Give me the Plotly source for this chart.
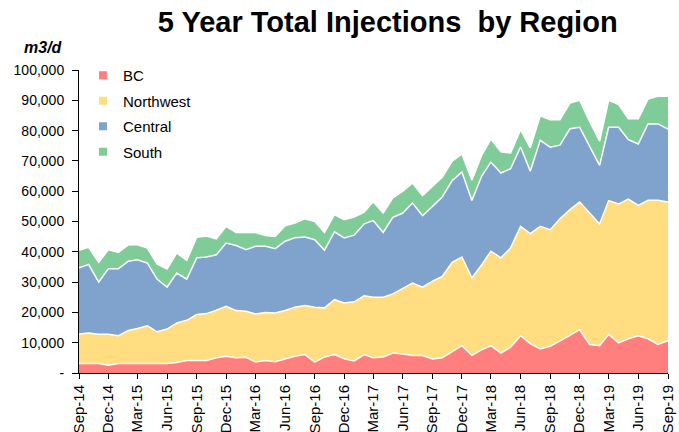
import pandas as pd
import plotly.graph_objects as go

months = pd.date_range("2014-09-01", "2019-09-01", freq="MS")

bc = [3.1,3.1,3.1,2.6,3.1,3.1,3.1,3.1,3.1,3.1,3.5,4.1,4.1,4.1,5.0,5.5,5.0,5.2,3.6,4.1,
      3.7,4.6,5.5,6.1,3.6,5.3,6.1,4.7,4.0,6.1,5.0,5.3,6.6,6.3,5.8,5.8,4.6,5.0,6.9,9.0,
      5.8,7.7,9.0,6.6,8.5,12.3,9.7,7.9,8.8,10.5,12.4,14.3,9.4,9.0,12.7,9.9,11.3,12.3,11.3,9.4,10.7]
northwest = [9.8,10.1,9.7,10.2,9.2,10.9,11.6,12.5,10.5,11.4,13.0,13.3,15.2,15.5,15.7,16.5,15.6,15.2,15.9,15.9,
             16.1,16.0,16.2,16.2,18.1,16.2,18.1,18.4,19.5,19.4,20.0,19.7,19.5,21.7,23.9,22.5,25.7,26.9,29.6,29.3,
             25.6,28.1,31.2,31.4,32.8,36.1,36.3,40.5,38.5,40.4,41.5,42.1,43.4,40.2,44.2,45.9,46.1,43.0,45.7,47.6,45.7]
central = [21.8,22.6,17.2,21.6,22.1,22.9,22.7,20.7,17.4,13.8,16.5,13.6,18.7,18.7,18.3,20.9,21.5,20.3,22.3,21.8,
           21.2,22.9,22.9,22.6,22.3,19.0,22.4,21.5,22.0,23.7,25.3,21.4,25.3,24.8,26.4,23.6,24.7,26.2,27.0,28.0,
           25.5,29.3,29.4,28.0,26.1,26.2,20.6,28.4,27.2,24.3,26.7,24.7,22.0,19.3,24.2,25.3,19.6,20.3,25.2,25.2,24.1]
south = [5.8,5.7,6.5,6.3,5.4,5.4,4.9,4.9,5.0,6.0,6.6,6.2,6.8,6.9,5.3,5.5,4.3,5.7,4.6,3.6,
         4.1,5.1,4.9,6.0,6.0,5.9,5.7,6.0,6.0,3.9,6.2,6.4,6.4,7.2,6.6,6.6,6.6,6.5,6.4,6.0,
         6.7,6.9,7.6,7.0,5.2,5.7,7.7,8.1,9.1,8.4,8.5,8.9,8.2,8.0,8.9,7.5,6.9,8.3,8.2,9.1,10.8]

series_names = ["BC", "Northwest", "Central", "South"]
series_values = [bc, northwest, central, south]
colors = ["#FF7F7F", "#FFDD80", "#7FA3CD", "#80CC99"]

y_tickvals = [0, 10000, 20000, 30000, 40000, 50000, 60000, 70000, 80000, 90000, 100000]
y_ticktext = ["-", "10,000", "20,000", "30,000", "40,000", "50,000", "60,000",
              "70,000", "80,000", "90,000", "100,000"]

fig = go.Figure()
for name, vals, col in zip(series_names, series_values, colors):
    fig.add_trace(go.Scatter(
        x=months, y=[v * 1000 for v in vals], name=name,
        mode="lines", stackgroup="one",
        line=dict(color="white", width=1.5),
        fillcolor=col, showlegend=False,
    ))
# legend entries with square swatches
for name, col in zip(series_names, colors):
    fig.add_trace(go.Scatter(
        x=[None], y=[None], mode="markers", name=name, legendgroup=name,
        marker=dict(symbol="square", size=8, color=col),
    ))

L, R, T, B = 79, 11, 70, 59
pw, ph = 679 - L - R, 432 - T - B

xticks = months[::3]
fig.update_layout(
    width=679, height=432,
    margin=dict(l=L, r=R, t=T, b=B),
    paper_bgcolor="white", plot_bgcolor="white",
    font=dict(family="Arial, Liberation Sans, sans-serif", size=14, color="black"),
    title=dict(text="<b>5 Year Total Injections  by Region</b>", x=0.571, xanchor="center",
               xref="container", y=0.95, yanchor="middle", font=dict(size=29, color="black")),
    showlegend=True,
    legend=dict(x=(83 - L) / pw, y=1 + 11 / ph, xanchor="left", yanchor="top",
                traceorder="grouped", tracegroupgap=3, bgcolor="rgba(0,0,0,0)",
                font=dict(size=15), itemwidth=30),
    xaxis=dict(range=[months[0], months[-1]], tickvals=xticks,
               ticktext=[d.strftime("%b-%y") for d in xticks], tickangle=-90,
               showline=True, linecolor="black", linewidth=1, ticks="outside",
               ticklen=5, tickcolor="black", showgrid=False, zeroline=False,
               automargin=False, tickfont=dict(size=15)),
    yaxis=dict(range=[0, 100000], tickvals=y_tickvals, ticktext=y_ticktext,
               showline=True, linecolor="black", linewidth=1, ticks="outside",
               ticklen=6, tickcolor="black", showgrid=False, zeroline=False,
               automargin=False, ticklabelstandoff=5, tickfont=dict(size=14)),
    annotations=[dict(text="<b><i>m3/d</i></b>", x=(65 - L) / pw, y=(373 - 47) / ph,
                      xref="paper", yref="paper", xanchor="right", yanchor="middle",
                      showarrow=False, font=dict(size=16))],
)
fig.write_html("out.html", config={"displayModeBar": False},
               post_script="document.body.style.margin='0';")
